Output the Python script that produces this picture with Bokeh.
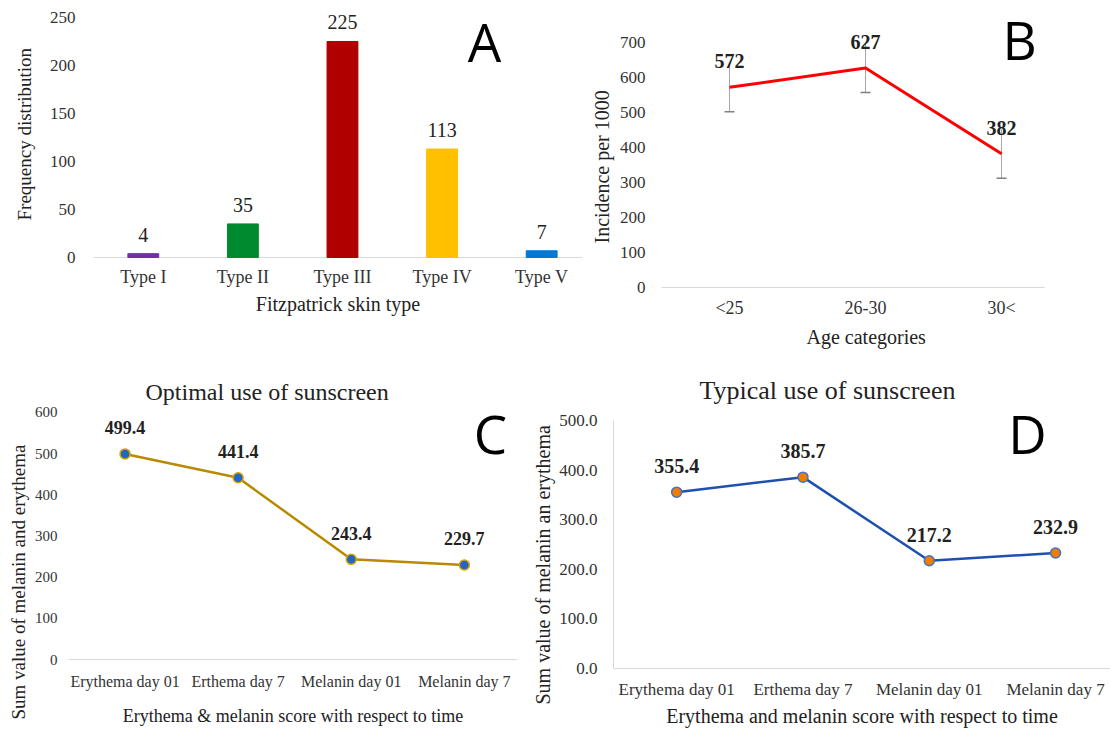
from bokeh.plotting import figure
from bokeh.layouts import column, row
from bokeh.models import (Range1d, FixedTicker, Label, Whisker, TeeHead, Title, Span,
                          ColumnDataSource, NumeralTickFormatter)
from bokeh.core.properties import value
from bokeh.embed import file_html
from bokeh.resources import INLINE

SERIF = "Liberation Serif"
SANS = "Open Sans"

# ---------------- data ----------------
skin_types = ["Type I", "Type II", "Type III", "Type IV", "Type V"]
skin_counts = [4, 35, 225, 113, 7]
skin_colors = ["#7030A0", "#008A30", "#B00000", "#FFC000", "#0078D7"]

age_groups = ["<25", "26-30", "30<"]
incidence = [572, 627, 382]
incidence_err = [70, 70, 70]

time_points = ["Erythema day 01", "Erthema day 7", "Melanin day 01", "Melanin day 7"]
optimal_sum = [499.4, 441.4, 243.4, 229.7]
typical_sum = [355.4, 385.7, 217.2, 232.9]

A_ticks = [0, 50, 100, 150, 200, 250]
B_ticks = [0, 100, 200, 300, 400, 500, 600, 700]
C_ticks = [0, 100, 200, 300, 400, 500, 600]
D_ticks = [0, 100, 200, 300, 400, 500]

TICK_COLOR = "#333333"
LABEL_COLOR = "#222222"
AXIS_GRAY = "#D9D9D9"


def base_fig(width, height, xr, yr, borders, cats, yticks, tick_size, cat_size):
    l, r, t, b = borders
    p = figure(width=width, height=height, x_range=xr, y_range=yr,
               output_backend="svg", toolbar_location=None,
               min_border_left=l, min_border_right=r,
               min_border_top=t, min_border_bottom=b)
    p.outline_line_color = None
    p.grid.visible = False
    for ax in (p.xaxis[0], p.yaxis[0]):
        ax.major_tick_line_color = None
        ax.minor_tick_line_color = None
        ax.major_tick_out = 0
        ax.major_tick_in = 0
        ax.minor_tick_out = 0
        ax.major_label_text_font = SERIF
        ax.major_label_text_color = TICK_COLOR
        ax.axis_label_text_font = SERIF
        ax.axis_label_text_font_style = "normal"
        ax.axis_label_text_color = LABEL_COLOR
    p.yaxis.axis_line_color = None
    p.xaxis.axis_line_color = AXIS_GRAY
    p.xaxis.axis_line_width = 1.2
    p.xaxis.ticker = FixedTicker(ticks=list(range(len(cats))))
    p.xaxis.major_label_overrides = {i: c for i, c in enumerate(cats)}
    p.yaxis.ticker = FixedTicker(ticks=yticks)
    p.yaxis.major_label_text_font_size = tick_size
    p.xaxis.major_label_text_font_size = cat_size
    return p


def zero_baseline(p):
    # category axis drawn at value 0 (above the frame's lower edge)
    p.xaxis.axis_line_color = None
    p.add_layout(Span(location=0, dimension="width", line_color=AXIS_GRAY,
                      line_width=1.2, level="underlay"))


def side_title(p, text, side, offset, standoff, size, valign):
    p.add_layout(Title(text=text, align="left", offset=offset, standoff=standoff,
                       vertical_align=valign, text_font=SERIF, text_font_size=size,
                       text_font_style="normal", text_color=LABEL_COLOR), side)


def top_title(p, text, offset, size):
    p.title.text = text
    p.title.text_font = SERIF
    p.title.text_font_size = size
    p.title.text_font_style = "normal"
    p.title.text_color = LABEL_COLOR
    p.title.align = "left"
    p.title.offset = offset
    p.title.standoff = 0


def letter(p, text, x, y):
    p.add_layout(Label(x=x, y=y, x_units="screen", y_units="screen", text=text,
                       text_font=SANS, text_font_size="53px", text_color="black",
                       text_align="center", text_baseline="middle"))


def value_labels(p, xs, ys, texts, size, bold, offset):
    p.text(x=xs, y=ys, text=texts, text_align="center", text_baseline="middle",
           y_offset=offset, text_font=value(SERIF), text_font_size=size,
           text_font_style="bold" if bold else "normal", text_color=LABEL_COLOR)


# ---------------- A ----------------
xa = list(range(len(skin_types)))
pA = base_fig(582, 356, Range1d(-0.5, 4.41), Range1d(-31.25, 265.6), (93, 0, 2, 69),
              skin_types, A_ticks, "17px", "18px")
zero_baseline(pA)
pA.vbar(x=xa, top=skin_counts, width=0.31, color=skin_colors)
value_labels(pA, xa, skin_counts, [str(v) for v in skin_counts], "20px", False, -19)
pA.xaxis.major_label_standoff = -21
pA.yaxis.major_label_standoff = 18
pA.xaxis.axis_label = "Fitzpatrick skin type"
pA.xaxis.axis_label_text_font_size = "20px"
pA.xaxis.axis_label_standoff = 3
side_title(pA, "Frequency distribution", "left", 67, 23, "19px", "bottom")
letter(pA, "A", 391, 246)

# ---------------- B ----------------
xb = list(range(len(age_groups)))
pB = base_fig(528, 356, Range1d(-0.5, 2.316), Range1d(0, 814.3), (79, 66, 2, 69),
              age_groups, B_ticks, "17px", "18px")
src_b = ColumnDataSource(dict(
    x=xb,
    upper=[v + e for v, e in zip(incidence, incidence_err)],
    lower=[v - e for v, e in zip(incidence, incidence_err)],
))
pB.add_layout(Whisker(base="x", upper="upper", lower="lower", source=src_b,
                      dimension="height", line_color="#A6A6A6", line_width=1,
                      upper_head=None,
                      lower_head=TeeHead(size=10, line_color="#808080", line_width=1.5),
                      level="underlay"))
pB.line(xb, incidence, line_color="#FF0000", line_width=3)
value_labels(pB, xb, incidence, [str(v) for v in incidence], "20px", True, -26)
pB.xaxis.major_label_standoff = 10
pB.yaxis.major_label_standoff = 16
side_title(pB, "Incidence per 1000", "left", 44, 7, "20px", "bottom")
side_title(pB, "Age categories", "below", 145, 10, "20px", "top")
letter(pB, "B", 358, 248)

# ---------------- C ----------------
xc = list(range(len(time_points)))
pC = base_fig(524, 373, Range1d(-0.5, 3.47), Range1d(-21.8, 619.4), (68, 7, 48, 60),
              time_points, C_ticks, "15px", "16px")
zero_baseline(pC)
top_title(pC, "Optimal use of sunscreen", 77, "24px")
pC.line(xc, optimal_sum, line_color="#B88A00", line_width=2.5)
pC.scatter(xc, optimal_sum, size=10, fill_color="#1F66C8", line_color="#D9A000",
           line_width=1.5)
value_labels(pC, xc, optimal_sum, [f"{v:.1f}" for v in optimal_sum], "18px", True, -26)
pC.xaxis.major_label_standoff = 4
pC.yaxis.major_label_standoff = 11
pC.xaxis.axis_label = "Erythema & melanin score with respect to time"
pC.xaxis.axis_label_text_font_size = "18px"
pC.xaxis.axis_label_standoff = 13
side_title(pC, "Sum value of melanin and erythema", "left", -51, 5, "19px", "bottom")
letter(pC, "C", 422, 235)

# ---------------- D ----------------
xd = list(range(len(time_points)))
pD = base_fig(586, 373, Range1d(-0.5, 3.435), Range1d(0, 532.1), (89, 0, 48, 60),
              time_points, D_ticks, "17px", "17px")
pD.yaxis.axis_line_color = AXIS_GRAY
pD.yaxis.axis_line_width = 1.2
pD.yaxis.bounds = (0, 500)
pD.yaxis.formatter = NumeralTickFormatter(format="0.0")
top_title(pD, "Typical use of sunscreen", 86, "26px")
pD.line(xd, typical_sum, line_color="#1F4FAF", line_width=2.5)
pD.scatter(xd, typical_sum, size=10, fill_color="#F07C00", line_color="#4472C4",
           line_width=1.5)
value_labels(pD, xd, typical_sum, [f"{v:.1f}" for v in typical_sum], "20px", True, -26)
pD.xaxis.major_label_standoff = 11
pD.yaxis.major_label_standoff = 16
pD.xaxis.axis_label = "Erythema and melanin score with respect to time"
pD.xaxis.axis_label_text_font_size = "20px"
pD.xaxis.axis_label_standoff = 3
side_title(pD, "Sum value of melanin an erythema", "left", -36, 6, "20px", "bottom")
letter(pD, "D", 414, 235)

layout = column(row(pA, pB), row(pC, pD))
open("out.html", "w").write(file_html(layout, INLINE))
